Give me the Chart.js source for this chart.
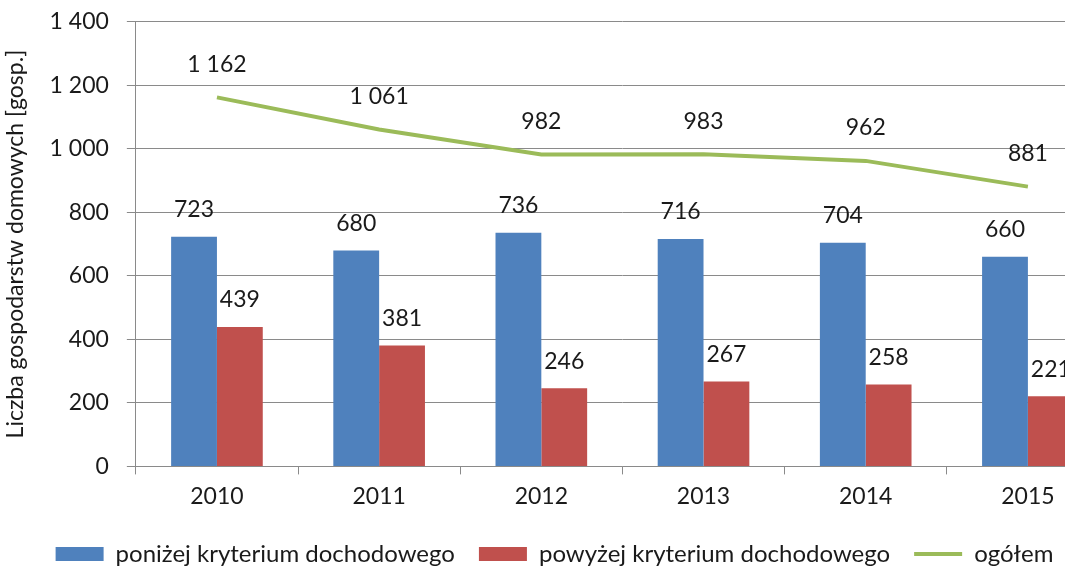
<!DOCTYPE html>
<html lang="pl">
  <head>
    <meta charset="UTF-8" />
    <title>Liczba gospodarstw domowych</title>
    <script src="https://cdn.jsdelivr.net/npm/chart.js"></script>
    <style>
      html, body { margin: 0; padding: 0; background: #fff; overflow: hidden; }
      #wrap { width: 1118px; height: 586px; margin-top: -10px; }
    </style>
  </head>
  <body>
    <div id="wrap"><canvas id="chart"></canvas></div>
    <script>
      // Data
      const years = ["2010", "2011", "2012", "2013", "2014", "2015"];
      const belowCriterion = [723, 680, 736, 716, 704, 660];
      const aboveCriterion = [439, 381, 246, 267, 258, 221];
      const total = [1162, 1061, 982, 983, 962, 881];

      const FONT = "Lato, 'Open Sans', sans-serif";
      const gridColor = "#8a8a8a";
      const textColor = "#1a1a1a";

      // Polish style number: space as thousands separator
      function fmt(v) {
        return String(v).replace(/\B(?=(\d{3})+(?!\d))/g, " ");
      }

      // Draw value labels above bars and line points
      const valueLabels = {
        id: "valueLabels",
        afterDatasetsDraw(chart) {
          const ctx = chart.ctx;
          ctx.save();
          ctx.font = "23px " + FONT;
          ctx.fillStyle = textColor;
          ctx.textAlign = "center";
          ctx.textBaseline = "middle";
          chart.data.datasets.forEach((ds, i) => {
            const meta = chart.getDatasetMeta(i);
            const lift = ds.type === "line" ? 33 : 27;
            meta.data.forEach((el, j) => {
              ctx.fillText(fmt(ds.data[j]), el.x, el.y - lift);
            });
          });
          ctx.restore();
        },
      };

      new Chart(document.getElementById("chart"), {
        type: "bar",
        data: {
          labels: years,
          datasets: [
            {
              label: "poniżej kryterium dochodowego",
              data: belowCriterion,
              backgroundColor: "#4f81bd",
              pointStyle: "rect",
              categoryPercentage: 0.565,
              barPercentage: 1,
            },
            {
              label: "powyżej kryterium dochodowego",
              data: aboveCriterion,
              backgroundColor: "#c0504d",
              pointStyle: "rect",
              categoryPercentage: 0.565,
              barPercentage: 1,
            },
            {
              type: "line",
              label: "ogółem",
              data: total,
              borderColor: "#9bbb59",
              backgroundColor: "#9bbb59",
              borderWidth: 4,
              pointRadius: 0,
              pointStyle: "line",
              tension: 0,
            },
          ],
        },
        options: {
          responsive: true,
          maintainAspectRatio: false,
          animation: false,
          layout: { padding: { top: 0, right: 9, left: 0, bottom: 0 } },
          plugins: {
            tooltip: { enabled: false },
            legend: {
              position: "bottom",
              labels: {
                usePointStyle: true,
                pointStyleWidth: 48,
                boxHeight: 14,
                padding: 24,
                color: textColor,
                font: { family: FONT, size: 24 },
              },
            },
          },
          scales: {
            x: {
              grid: {
                drawOnChartArea: false,
                drawTicks: true,
                tickLength: 8,
                color: gridColor,
              },
              border: { color: gridColor },
              ticks: {
                color: textColor,
                padding: 8,
                font: { family: FONT, size: 23 },
              },
            },
            y: {
              min: 0,
              max: 1400,
              ticks: {
                stepSize: 200,
                color: textColor,
                padding: 18,
                font: { family: FONT, size: 23 },
                callback: (v) => fmt(v),
              },
              grid: { color: gridColor, tickLength: 9 },
              border: { color: gridColor },
              title: {
                display: true,
                text: "Liczba gospodarstw domowych [gosp.]",
                color: textColor,
                padding: 2,
                font: { family: FONT, size: 23 },
              },
            },
          },
        },
        plugins: [valueLabels],
      });
    </script>
  </body>
</html>
